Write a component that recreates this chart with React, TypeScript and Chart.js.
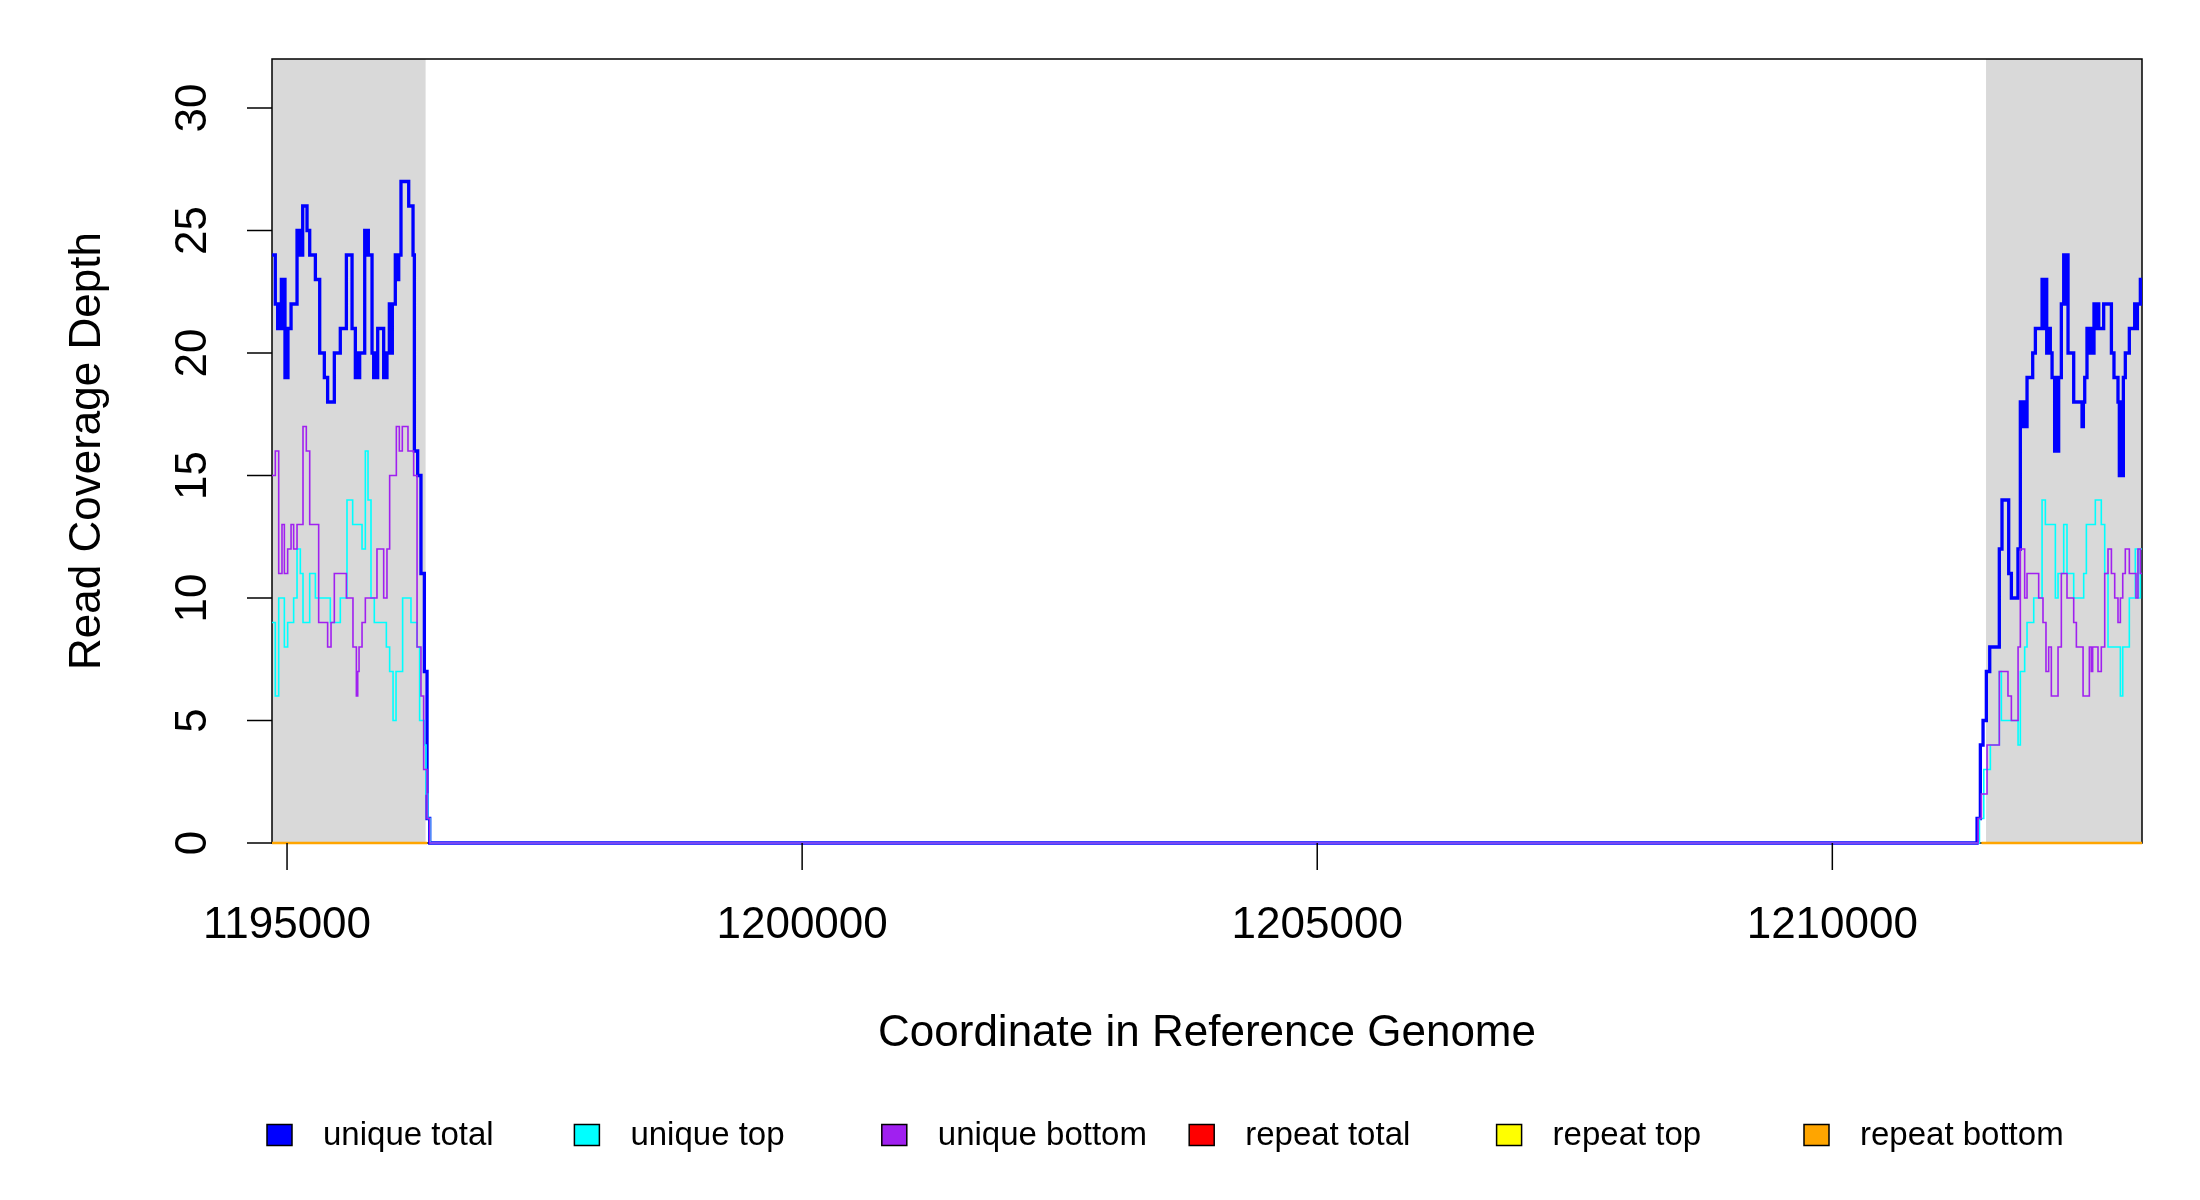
import React, { useEffect, useRef } from "react";
import { Chart, registerables } from "chart.js";

Chart.register(...registerables);

// axis limits and ticks
const X_MIN = 1194854;
const X_MAX = 1213006;
const Y_MAX = 32;
const xTicks = [1195000, 1200000, 1205000, 1210000];
const yTicks = [0, 5, 10, 15, 20, 25, 30];

// grey (repeat) regions
const shadeStart = [1194854, 1211492];
const shadeEnd = [1196345, 1213006];

// spans where the repeat series are drawn (all zero)
const repeatStart = [1194854, 1211450];
const repeatEnd = [1196360, 1213006];

// unique total (step change points)
const uniqueTotalPos = [
  1194854, 1194886, 1194909, 1194916, 1194922, 1194932, 1194945, 1194961, 1194971, 1194980,
  1194993, 1195000, 1195009, 1195039, 1195097, 1195116, 1195129, 1195145, 1195152, 1195194,
  1195220, 1195275, 1195317, 1195362, 1195394, 1195459, 1195517, 1195576, 1195631, 1195663,
  1195679, 1195689, 1195705, 1195754, 1195770, 1195780, 1195789, 1195825, 1195841, 1195857,
  1195867, 1195880, 1195938, 1195951, 1195957, 1195970, 1195993, 1196009, 1196022, 1196051,
  1196067, 1196084, 1196106, 1196181, 1196223, 1196236, 1196268, 1196300, 1196333, 1196359,
  1196385,
  1211405, 1211437, 1211463, 1211495, 1211528, 1211621, 1211647, 1211712, 1211738, 1211802,
  1211825, 1211848, 1211867, 1211880, 1211890, 1211945, 1211971, 1212036, 1212055, 1212068,
  1212081, 1212100, 1212116, 1212133, 1212158, 1212171, 1212184, 1212197, 1212223, 1212246,
  1212262, 1212275, 1212288, 1212343, 1212424, 1212437, 1212450, 1212472, 1212489, 1212505,
  1212521, 1212540, 1212553, 1212566, 1212586, 1212634, 1212709, 1212734, 1212773, 1212786,
  1212799, 1212812, 1212825, 1212844, 1212883, 1212935, 1212948, 1212961, 1212990,
];
const uniqueTotalVal = [
  24, 22, 21, 22, 21, 22, 23, 21, 23, 19,
  21, 19, 21, 22, 25, 24, 25, 24, 26, 25,
  24, 23, 20, 19, 18, 20, 21, 24, 21, 19,
  20, 19, 20, 25, 24, 25, 24, 20, 19, 20,
  19, 21, 19, 20, 19, 20, 22, 20, 22, 24,
  23, 24, 27, 26, 24, 16, 15, 11, 7, 1,
  0,
  1, 4, 5, 7, 8, 12, 14, 11, 10, 12,
  18, 17, 18, 17, 19, 20, 21, 23, 21, 23,
  20, 21, 20, 19, 16, 19, 16, 19, 22, 24,
  22, 24, 20, 18, 17, 18, 19, 21, 20, 21,
  20, 22, 21, 22, 21, 22, 20, 19, 18, 15,
  18, 15, 19, 20, 21, 22, 21, 22, 23,
];

// unique top
const uniqueTopPos = [
  1194854, 1194886, 1194919, 1194974, 1195006, 1195064, 1195097, 1195129, 1195155, 1195220,
  1195275, 1195420, 1195517, 1195582, 1195637, 1195728, 1195760, 1195786, 1195815, 1195847,
  1195964, 1195996, 1196029, 1196058, 1196122, 1196203, 1196262, 1196287, 1196333, 1196349,
  1196365, 1196391,
  1211428, 1211470, 1211534, 1211621, 1211641, 1211803, 1211825, 1211867, 1211890, 1211955,
  1212036, 1212068, 1212165, 1212191, 1212246, 1212278, 1212343, 1212440, 1212466, 1212553,
  1212611, 1212644, 1212676, 1212796, 1212819, 1212883, 1212941, 1212967, 1212990,
];
const uniqueTopVal = [
  9, 6, 10, 8, 9, 10, 12, 11, 9, 11,
  10, 9, 10, 14, 13, 12, 16, 14, 10, 9,
  8, 7, 5, 7, 10, 9, 8, 5, 4, 2,
  1, 0,
  1, 3, 4, 7, 5, 4, 7, 8, 9, 10,
  14, 13, 10, 11, 13, 11, 10, 11, 13, 14,
  13, 11, 8, 6, 8, 10, 12, 10, 12,
];

// unique bottom
const uniqueBottomPos = [
  1194854, 1194886, 1194919, 1194951, 1194974, 1195006, 1195039, 1195064, 1195097, 1195155,
  1195187, 1195220, 1195307, 1195394, 1195427, 1195459, 1195576, 1195640, 1195673, 1195686,
  1195699, 1195728, 1195760, 1195873, 1195938, 1195970, 1195996, 1196061, 1196090, 1196119,
  1196174, 1196229, 1196262, 1196300, 1196326, 1196359, 1196385,
  1211415, 1211447, 1211502, 1211621, 1211705, 1211738, 1211803, 1211825, 1211867, 1211890,
  1212003, 1212045, 1212074, 1212100, 1212126, 1212191, 1212223, 1212278, 1212343, 1212369,
  1212434, 1212495, 1212514, 1212527, 1212579, 1212611, 1212644, 1212676, 1212709, 1212741,
  1212773, 1212796, 1212819, 1212844, 1212883, 1212948, 1212967, 1212990,
];
const uniqueBottomVal = [
  15, 16, 11, 13, 11, 12, 13, 12, 13, 17,
  16, 13, 9, 8, 9, 11, 10, 8, 6, 7,
  8, 9, 10, 12, 10, 12, 15, 17, 16, 17,
  16, 15, 8, 6, 3, 1, 0,
  1, 2, 4, 7, 6, 5, 8, 12, 10, 11,
  10, 9, 7, 8, 6, 8, 11, 10, 9, 8,
  6, 8, 7, 8, 7, 8, 11, 12, 11, 10,
  9, 10, 11, 12, 11, 10, 12, 11,
];

const legendLabels = ["unique total", "unique top", "unique bottom", "repeat total", "repeat top", "repeat bottom"];
const legendColors = ["#0000ff", "#00ffff", "#a020f0", "#ff0000", "#ffff00", "#ffa500"];

const FONT = "'Liberation Sans', Arial, sans-serif";

const toSteps = (pos: number[], val: number[]) => {
  const pts = pos.map((p, i) => ({ x: p, y: val[i] }));
  pts.push({ x: X_MAX, y: val[val.length - 1] });
  return pts;
};

const repeatPoints = () => {
  const pts: { x: number; y: number | null }[] = [];
  repeatStart.forEach((s, i) => {
    if (i > 0) pts.push({ x: s, y: null });
    pts.push({ x: s, y: 0 }, { x: repeatEnd[i], y: 0 });
  });
  return pts;
};

const rFrame = {
  id: "rFrame",
  beforeDatasetsDraw(chart: any) {
    const { ctx, chartArea: a, scales } = chart;
    const x = scales.x;
    ctx.save();
    ctx.fillStyle = "#d9d9d9";
    shadeStart.forEach((s, i) => {
      const l = x.getPixelForValue(s);
      const r = x.getPixelForValue(shadeEnd[i]);
      ctx.fillRect(l, a.top, r - l, a.bottom - a.top);
    });
    ctx.strokeStyle = "#000000";
    ctx.lineWidth = 1.5;
    ctx.strokeRect(a.left, a.top, a.right - a.left, a.bottom - a.top);
    ctx.restore();
  },
  afterDraw(chart: any) {
    const { ctx, chartArea: a, scales } = chart;
    const x = scales.x;
    const y = scales.y;
    ctx.save();
    ctx.strokeStyle = "#000000";
    ctx.fillStyle = "#000000";
    ctx.lineWidth = 1.5;

    // x axis
    ctx.font = `44px ${FONT}`;
    ctx.textAlign = "center";
    ctx.textBaseline = "middle";
    xTicks.forEach((t) => {
      const px = x.getPixelForValue(t);
      ctx.beginPath();
      ctx.moveTo(px, a.bottom);
      ctx.lineTo(px, a.bottom + 27);
      ctx.stroke();
      ctx.fillText(String(t), px, a.bottom + 83);
    });
    ctx.fillText("Coordinate in Reference Genome", (a.left + a.right) / 2, a.bottom + 191);

    // y axis
    yTicks.forEach((t) => {
      const py = y.getPixelForValue(t);
      ctx.beginPath();
      ctx.moveTo(a.left - 25, py);
      ctx.lineTo(a.left, py);
      ctx.stroke();
      ctx.save();
      ctx.translate(a.left - 78, py);
      ctx.rotate(-Math.PI / 2);
      ctx.fillText(String(t), 0, 0);
      ctx.restore();
    });
    ctx.save();
    ctx.translate(a.left - 184, (a.top + a.bottom) / 2);
    ctx.rotate(-Math.PI / 2);
    ctx.fillText("Read Coverage Depth", 0, 0);
    ctx.restore();

    // legend
    ctx.font = `33px ${FONT}`;
    ctx.textAlign = "left";
    const ly = a.bottom + 292;
    legendLabels.forEach((label, i) => {
      const lx = 267 + i * 307.4;
      ctx.fillStyle = legendColors[i];
      ctx.fillRect(lx, ly - 10.5, 25, 21);
      ctx.lineWidth = 1.5;
      ctx.strokeStyle = "#000000";
      ctx.strokeRect(lx, ly - 10.5, 25, 21);
      ctx.fillStyle = "#000000";
      ctx.fillText(label, lx + 56, ly + 1);
    });
    ctx.restore();
  },
};

const App: React.FC = () => {
  const canvasRef = useRef<HTMLCanvasElement | null>(null);
  const chartRef = useRef<Chart | null>(null);

  useEffect(() => {
    document.body.style.margin = "0";
    if (!canvasRef.current) return;
    if (chartRef.current) chartRef.current.destroy();

    const line = (label: string, data: any[], color: string, width: number, order: number) => ({
      label,
      data,
      borderColor: color,
      backgroundColor: color,
      borderWidth: width,
      stepped: "before" as const,
      pointRadius: 0,
      fill: false,
      spanGaps: false,
      borderJoinStyle: "miter" as const,
      clip: 6,
      order,
    });

    chartRef.current = new Chart(canvasRef.current, {
      type: "line",
      data: {
        datasets: [
          line(legendLabels[0], toSteps(uniqueTotalPos, uniqueTotalVal), legendColors[0], 3.3, 6),
          line(legendLabels[1], toSteps(uniqueTopPos, uniqueTopVal), legendColors[1], 1.6, 5),
          line(legendLabels[2], toSteps(uniqueBottomPos, uniqueBottomVal), legendColors[2], 1.6, 4),
          line(legendLabels[3], repeatPoints(), legendColors[3], 2, 3),
          line(legendLabels[4], repeatPoints(), legendColors[4], 2, 2),
          line(legendLabels[5], repeatPoints(), legendColors[5], 2.5, 1),
        ],
      },
      options: {
        responsive: false,
        animation: false,
        parsing: true,
        layout: { padding: { left: 272, right: 58, top: 59, bottom: 357 } },
        scales: {
          x: { type: "linear", min: X_MIN, max: X_MAX, display: false },
          y: { type: "linear", min: 0, max: Y_MAX, display: false },
        },
        plugins: {
          legend: { display: false },
          tooltip: { enabled: false },
        },
      },
      plugins: [rFrame],
    });

    return () => {
      chartRef.current?.destroy();
      chartRef.current = null;
    };
  }, []);

  return (
    <div style={{ width: 2200, height: 1200, background: "#ffffff" }}>
      <canvas ref={canvasRef} width={2200} height={1200} style={{ width: 2200, height: 1200 }} />
    </div>
  );
};

export default App;
